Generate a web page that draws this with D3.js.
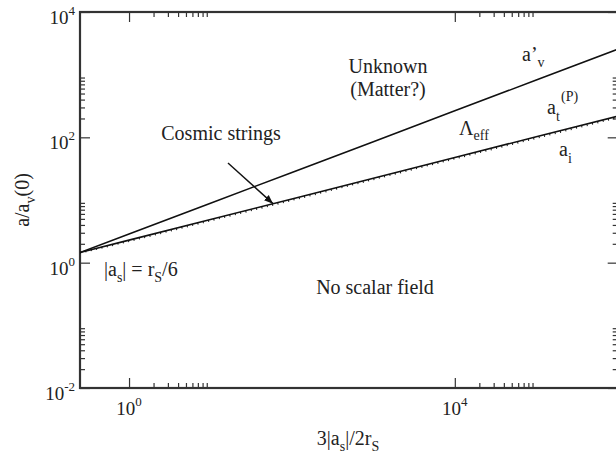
<!DOCTYPE html>
<html>
<head>
<meta charset="utf-8">
<script src="https://cdn.jsdelivr.net/npm/d3@7"></script>
<style>
  html, body { margin: 0; padding: 0; background: #fff; }
  svg { display: block; }
</style>
</head>
<body>
<svg id="chart" width="616" height="455"></svg>
<script>
// Scale variable 3|a_s|/2r_S at which each curve is sampled
const xs = [0.25, 1, 10, 100, 1e3, 1e4, 1e5, 1e6];
// a'_v / a_v(0)
const aVPrime = [1.45, 2.86, 8.9, 27.5, 85, 265, 820, 2550];
// a_t^(P) / a_v(0)
const aTP = [1.45, 2.29, 4.9, 10.4, 22.3, 47.8, 102, 218];
// a_i / a_v(0)
const aI = [1.43, 2.2, 4.7, 9.95, 21.4, 45.8, 97.5, 208];

// Axis ticks
const xMajor = [1, 1e4];
const xMinor = [2, 3, 4, 5, 6, 7, 8, 9, 2e4, 3e4, 4e4, 5e4, 6e4, 7e4, 8e4, 9e4];
const xTickExp = ["0", "4"];
const yMajor = [1e-2, 1, 1e2, 1e4];
const yMinor = [0.02, 0.03, 0.04, 0.05, 0.06, 0.07, 0.08, 0.09,
                2, 3, 4, 5, 6, 7, 8, 9,
                200, 300, 400, 500, 600, 700, 800, 900];
const yTickExp = ["-2", "0", "2", "4"];

const FONT = '"Liberation Serif", "Times New Roman", serif';
const svg = d3.select("#chart");
const L = 80, R = 617.7, T = 12, B = 388;

const x = d3.scaleLog().domain([0.25, 1e6]).range([L, R]);
const y = d3.scaleLog().domain([1e-2, 1e4]).range([B, T]);

const axisColor = "#333";
const ink = "#222";

function styleAxis(g) {
  g.selectAll(".domain").remove();
  g.selectAll(".tick line").attr("stroke", axisColor).attr("stroke-width", 1.2);
}

// bottom / top
svg.append("g").attr("transform", `translate(0,${B})`)
  .call(d3.axisBottom(x).tickValues(xMajor).tickSize(-10).tickFormat(""))
  .call(styleAxis);
svg.append("g").attr("transform", `translate(0,${B})`)
  .call(d3.axisBottom(x).tickValues(xMinor).tickSize(-5).tickFormat(""))
  .call(styleAxis);
svg.append("g").attr("transform", `translate(0,${T})`)
  .call(d3.axisTop(x).tickValues(xMajor).tickSize(-10).tickFormat(""))
  .call(styleAxis);
svg.append("g").attr("transform", `translate(0,${T})`)
  .call(d3.axisTop(x).tickValues(xMinor).tickSize(-5).tickFormat(""))
  .call(styleAxis);
// left / right
svg.append("g").attr("transform", `translate(${L},0)`)
  .call(d3.axisLeft(y).tickValues(yMajor).tickSize(-10).tickFormat(""))
  .call(styleAxis);
svg.append("g").attr("transform", `translate(${L},0)`)
  .call(d3.axisLeft(y).tickValues(yMinor).tickSize(-5).tickFormat(""))
  .call(styleAxis);
svg.append("g").attr("transform", `translate(${R},0)`)
  .call(d3.axisRight(y).tickValues(yMajor).tickSize(-10).tickFormat(""))
  .call(styleAxis);
svg.append("g").attr("transform", `translate(${R},0)`)
  .call(d3.axisRight(y).tickValues(yMinor).tickSize(-5).tickFormat(""))
  .call(styleAxis);

// frame
svg.append("rect")
  .attr("x", L).attr("y", T).attr("width", R - L).attr("height", B - T)
  .attr("fill", "none").attr("stroke", axisColor).attr("stroke-width", 2.2);

function txt(parent, px, py, size) {
  return parent.append("text").attr("x", px).attr("y", py)
    .attr("fill", ink).style("font-family", FONT).style("font-size", (size || 20) + "px");
}
function sub(t, s, dy, size) {
  return t.append("tspan").attr("dy", dy).style("font-size", (size || 14) + "px").text(s);
}

// tick labels
xMajor.forEach((v, i) => {
  const t = txt(svg, x(v), 415, 19).attr("text-anchor", "middle");
  t.append("tspan").text("10");
  sub(t, xTickExp[i], -9, 13);
});
yMajor.forEach((v, i) => {
  const t = txt(svg, 75, y(v) + 12, 19).attr("text-anchor", "end");
  t.append("tspan").text("10");
  sub(t, yTickExp[i], -9, 13);
});

// axis titles
const xt = txt(svg, 348, 445, 20).attr("text-anchor", "middle");
xt.append("tspan").text("3|a");
sub(xt, "s", 6);
xt.append("tspan").attr("dy", -6).text("|/2r");
sub(xt, "S", 6);

const yt = txt(svg, 0, 0, 20)
  .attr("transform", "translate(29,200) rotate(-90)")
  .attr("text-anchor", "middle");
yt.append("tspan").text("a/a");
sub(yt, "v", 6);
yt.append("tspan").attr("dy", -6).text("(0)");

// curves
svg.append("clipPath").attr("id", "plotclip")
  .append("rect").attr("x", L).attr("y", T).attr("width", R - L).attr("height", B - T);

const line = d3.line().x(d => x(d[0])).y(d => y(d[1]));
const plot = svg.append("g").attr("clip-path", "url(#plotclip)");

plot.append("path").datum(xs.map((v, i) => [v, aVPrime[i]]))
  .attr("d", line).attr("fill", "none").attr("stroke", "#111").attr("stroke-width", 1.6);
plot.append("path").datum(xs.map((v, i) => [v, aTP[i]]))
  .attr("d", line).attr("fill", "none").attr("stroke", "#111").attr("stroke-width", 1.6);
plot.append("path").datum(xs.map((v, i) => [v, aI[i]]))
  .attr("d", line).attr("fill", "none").attr("stroke", "#111").attr("stroke-width", 1.8)
  .attr("stroke-dasharray", "1,4.5");

// arrow pointing at the cosmic-string curve
svg.append("defs").append("marker").attr("id", "arrowhead")
  .attr("viewBox", "0 0 10 10").attr("refX", 10).attr("refY", 5)
  .attr("markerWidth", 9).attr("markerHeight", 9)
  .attr("markerUnits", "userSpaceOnUse").attr("orient", "auto")
  .append("path").attr("d", "M0,1 L10,5 L0,9 Z").attr("fill", "#111");

const arrowFrom = [16.4, 38.9], arrowTo = [58.6, 8.75];
svg.append("line")
  .attr("x1", x(arrowFrom[0])).attr("y1", y(arrowFrom[1]))
  .attr("x2", x(arrowTo[0])).attr("y2", y(arrowTo[1]))
  .attr("stroke", "#111").attr("stroke-width", 1.4)
  .attr("marker-end", "url(#arrowhead)");

// region and curve annotations
txt(svg, 388, 73).attr("text-anchor", "middle").text("Unknown");
txt(svg, 388, 96).attr("text-anchor", "middle").text("(Matter?)");
txt(svg, 221, 140).attr("text-anchor", "middle").text("Cosmic strings");
txt(svg, 375, 294).attr("text-anchor", "middle").text("No scalar field");

const asl = txt(svg, 104, 276);
asl.append("tspan").text("|a");
sub(asl, "s", 6);
asl.append("tspan").attr("dy", -6).text("| = r");
sub(asl, "S", 6);
asl.append("tspan").attr("dy", -6).text("/6");

const av = txt(svg, 522, 61);
av.append("tspan").text("a’");
sub(av, "v", 6);

const lam = txt(svg, 459, 135);
lam.append("tspan").text("Λ");
sub(lam, "eff", 5);

const at = txt(svg, 547, 114);
at.append("tspan").text("a");
sub(at, "t", 7);
txt(svg, 561, 101, 14).text("(P)");

const ai = txt(svg, 559, 156);
ai.append("tspan").text("a");
sub(ai, "i", 7);
</script>
</body>
</html>
